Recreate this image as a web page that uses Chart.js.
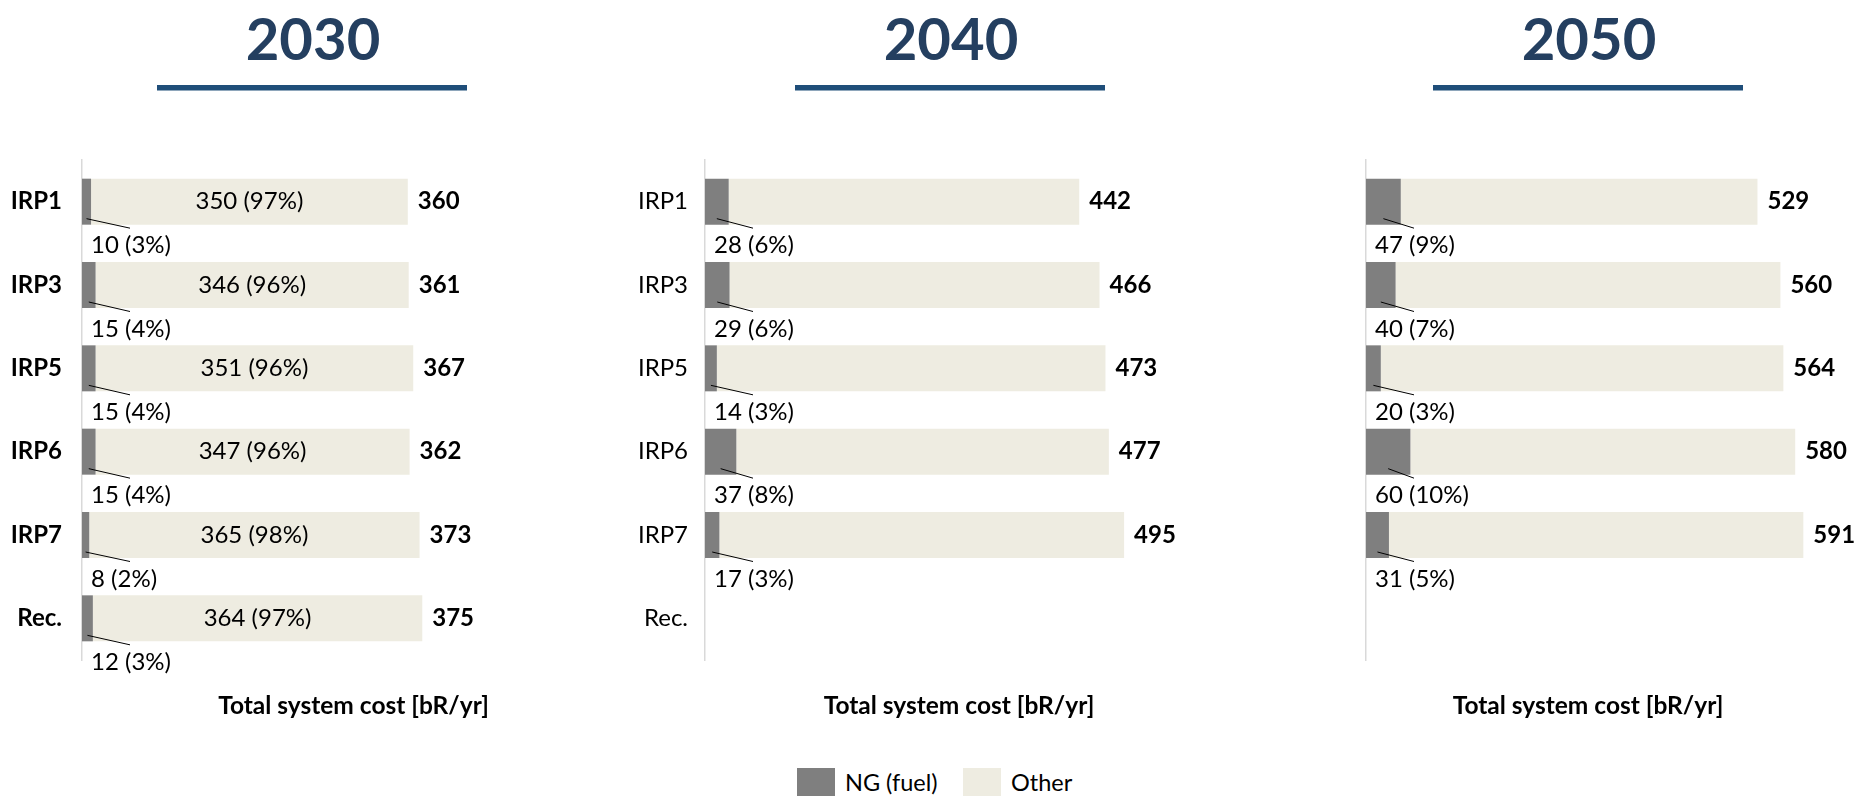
<!DOCTYPE html>
<html>
<head>
<meta charset="utf-8">
<script src="https://cdn.jsdelivr.net/npm/chart.js@4.4.1/dist/chart.umd.min.js"></script>
<style>
    body { margin: 0; background: #fff; width: 1873px; height: 801px; overflow: hidden; position: relative; font-family: Lato, "Open Sans", sans-serif; }
    .panel { position: absolute; top: 0; width: 626px; height: 740px; }
    .legend-item { position: absolute; top: 768px; display: flex; align-items: center; font-size: 23.5px; color: #000; }
    .swatch { width: 38px; height: 28px; margin-right: 10px; }
</style>
</head>
<body>
<div class="panel" style="left:0px"><canvas id="chart2030" width="626" height="740"></canvas></div>
<div class="panel" style="left:638px"><canvas id="chart2040" width="626" height="740"></canvas></div>
<div class="panel" style="left:1276px"><canvas id="chart2050" width="626" height="740"></canvas></div>
<div class="legend-item" style="left:797px"><div class="swatch" style="background:#7f7f7f"></div>NG (fuel)</div>
<div class="legend-item" style="left:963px"><div class="swatch" style="background:#eeece1"></div>Other</div>
<script>
const categories = ["IRP1", "IRP3", "IRP5", "IRP6", "IRP7", "Rec."];
const seriesNames = ["NG (fuel)", "Other"];
const axisTitle = "Total system cost [bR/yr]";
const xMax = 600;

const ng2030 = [10, 15, 15, 15, 8, 12];
const other2030 = [350, 346, 351, 347, 365, 364];
const total2030 = [360, 361, 367, 362, 373, 375];
const ngPct2030 = [3, 4, 4, 4, 2, 3];
const otherPct2030 = [97, 96, 96, 96, 98, 97];

const ng2040 = [28, 29, 14, 37, 17, null];
const other2040 = [414, 437, 459, 440, 478, null];
const total2040 = [442, 466, 473, 477, 495, null];
const ngPct2040 = [6, 6, 3, 8, 3, null];

const ng2050 = [47, 40, 20, 60, 31, null];
const other2050 = [482, 520, 544, 520, 560, null];
const total2050 = [529, 560, 564, 580, 591, null];
const ngPct2050 = [9, 7, 3, 10, 5, null];

const colors = {
    ng: "#7f7f7f",
    other: "#eeece1",
    title: "#243f60",
    rule: "#1f4e79",
    axis: "#d9d9d9",
    text: "#000000",
};
const fontFamily = "Lato, 'Open Sans', sans-serif";
const labelSize = 24;

// year heading with its underline, centred on the canvas
const yearHeading = {
    id: "yearHeading",
    afterDraw(chart, args, opts) {
        const ctx = chart.ctx;
        const cx = chart.width / 2;
        ctx.save();
        ctx.fillStyle = colors.title;
        ctx.font = `bold 58px ${fontFamily}`;
        ctx.textAlign = "center";
        ctx.textBaseline = "middle";
        ctx.fillText(opts.text, cx, 41);
        ctx.fillStyle = colors.rule;
        ctx.fillRect(cx - 156, 85, 310, 5.5);
        ctx.restore();
    },
};

// data labels: NG value under the bar with leader, Other value inside, total at bar end
const barLabels = {
    id: "barLabels",
    afterDatasetsDraw(chart, args, opts) {
        const ctx = chart.ctx;
        const zero = chart.scales.x.getPixelForValue(0);
        const ngMeta = chart.getDatasetMeta(0);
        const otherMeta = chart.getDatasetMeta(1);
        ctx.save();
        ctx.fillStyle = colors.text;
        ctx.strokeStyle = colors.text;
        ctx.lineWidth = 1;
        ctx.textBaseline = "middle";
        categories.forEach((cat, i) => {
            if (opts.ng[i] == null) {
                return;
            }
            const ngBar = ngMeta.data[i].getProps(["x", "y", "base", "height"], true);
            const otherBar = otherMeta.data[i].getProps(["x", "y", "base", "height"], true);
            const bottom = ngBar.y + ngBar.height / 2;
            const ngMid = (ngBar.base + ngBar.x) / 2;

            ctx.beginPath();
            ctx.moveTo(ngMid, bottom - 6);
            ctx.lineTo(zero + 48, bottom + 3.5);
            ctx.stroke();

            ctx.font = `${labelSize}px ${fontFamily}`;
            ctx.textAlign = "left";
            ctx.fillText(`${opts.ng[i]} (${opts.ngPct[i]}%)`, zero + 9, bottom + 21);

            if (opts.otherPct) {
                ctx.textAlign = "center";
                ctx.fillText(`${opts.other[i]} (${opts.otherPct[i]}%)`, (otherBar.base + otherBar.x) / 2, otherBar.y);
            }

            ctx.font = `bold ${labelSize}px ${fontFamily}`;
            ctx.textAlign = "left";
            ctx.fillText(String(opts.total[i]), otherBar.x + 10, otherBar.y);
        });
        ctx.restore();
    },
};

function buildChart(canvasId, year, ng, other, total, ngPct, otherPct, panel) {
    return new Chart(document.getElementById(canvasId), {
        type: "bar",
        data: {
            labels: categories,
            datasets: [
                { label: seriesNames[0], data: ng, backgroundColor: colors.ng },
                { label: seriesNames[1], data: other, backgroundColor: colors.other },
            ],
        },
        options: {
            indexAxis: "y",
            responsive: false,
            animation: false,
            events: [],
            layout: { padding: { left: 0, right: panel.padRight, top: 160, bottom: 0 } },
            datasets: {
                bar: { barPercentage: 0.552, categoryPercentage: 1, borderWidth: 0 },
            },
            scales: {
                x: {
                    stacked: true,
                    min: 0,
                    max: xMax,
                    grid: { display: false, drawTicks: false },
                    border: { display: false },
                    ticks: { display: false },
                    title: {
                        display: true,
                        text: axisTitle,
                        color: colors.text,
                        font: { family: fontFamily, size: 24.5, weight: "bold" },
                        padding: { top: 0, bottom: 19 },
                    },
                    afterFit(scale) {
                        scale.height = 80;
                    },
                },
                y: {
                    stacked: true,
                    grid: { display: false, drawTicks: false },
                    border: { display: true, color: colors.axis, width: 1.5 },
                    ticks: {
                        display: panel.showTicks,
                        color: colors.text,
                        padding: panel.tickPad,
                        font: { family: fontFamily, size: labelSize, weight: panel.boldTicks ? "bold" : "normal" },
                    },
                    afterFit(scale) {
                        scale.width = panel.axisWidth;
                    },
                },
            },
            plugins: {
                legend: { display: false },
                tooltip: { enabled: false },
                title: { display: false },
                yearHeading: { text: year },
                barLabels: { ng, other, total, ngPct, otherPct },
            },
        },
        plugins: [yearHeading, barLabels],
    });
}

buildChart("chart2030", "2030", ng2030, other2030, total2030, ngPct2030, otherPct2030,
    { axisWidth: 82, padRight: 1, showTicks: true, boldTicks: true, tickPad: 20 });
buildChart("chart2040", "2040", ng2040, other2040, total2040, ngPct2040, null,
    { axisWidth: 67, padRight: 51, showTicks: true, boldTicks: false, tickPad: 17 });
buildChart("chart2050", "2050", ng2050, other2050, total2050, ngPct2050, null,
    { axisWidth: 90, padRight: 92, showTicks: false, boldTicks: false, tickPad: 17 });
</script>
</body>
</html>
